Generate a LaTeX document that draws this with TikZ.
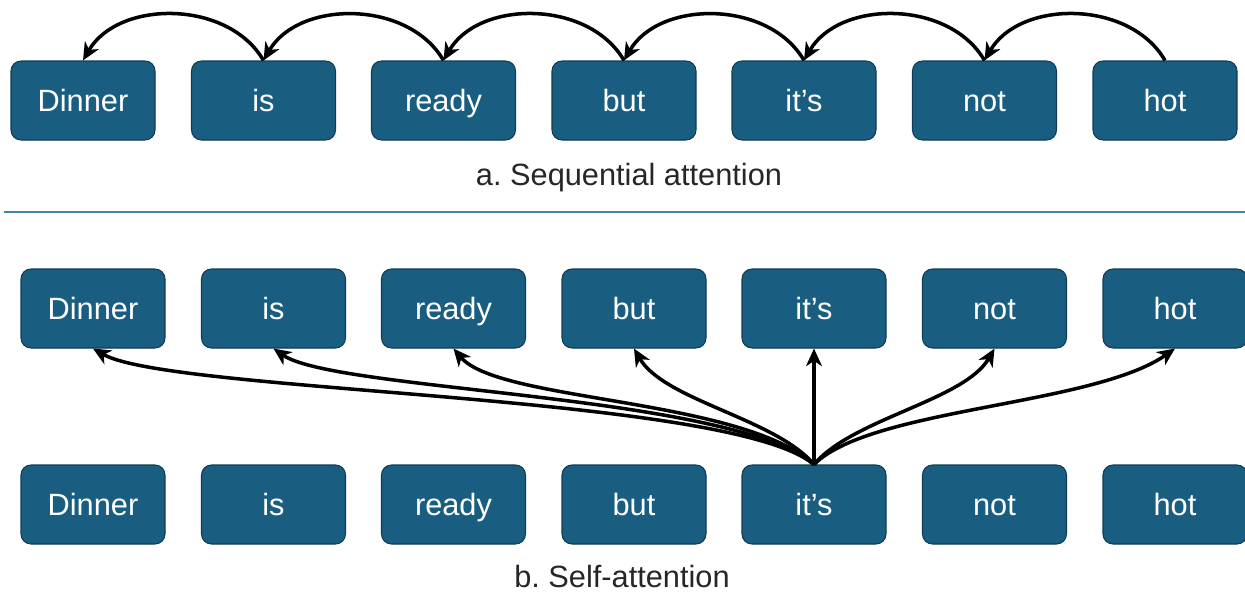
\documentclass[tikz,border=0pt]{standalone}
\usepackage{fontspec}
\setmainfont{Liberation Sans}
\usetikzlibrary{arrows.meta}
\frenchspacing

\definecolor{tokfill}{RGB}{25,94,128}
\definecolor{tokline}{RGB}{16,60,82}
\definecolor{rulecol}{RGB}{70,130,165}

\begin{document}
\begin{tikzpicture}[
    tok/.style={draw=tokline, line width=0.6pt, fill=tokfill, rounded corners=0.2cm,
                minimum width=2.88cm, minimum height=1.58cm, text=white,
                font=\fontsize{17.5}{20}\selectfont, text height=12.5pt, text depth=0pt},
    caption/.style={anchor=base, text=black!85, font=\fontsize{17.5}{20}\selectfont},
    att/.style={line width=2pt, -{Stealth[length=10pt, width=9pt, inset=3pt]}}
  ]

    \useasboundingbox (0,0) rectangle (24.9,-11.92);

    % a. one word at a time, right to left
    \node[tok] (a1) at (1.66,-2.01) {Dinner};
    \node[tok] (a2) at (5.27,-2.01) {is};
    \node[tok] (a3) at (8.87,-2.01) {ready};
    \node[tok] (a4) at (12.48,-2.01) {but};
    \node[tok] (a5) at (16.08,-2.01) {it’s};
    \node[tok] (a6) at (19.69,-2.01) {not};
    \node[tok] (a7) at (23.30,-2.01) {hot};

    \draw[att] (a2.north) to[out=120, in=60] (a1.north);
    \draw[att] (a3.north) to[out=120, in=60] (a2.north);
    \draw[att] (a4.north) to[out=120, in=60] (a3.north);
    \draw[att] (a5.north) to[out=120, in=60] (a4.north);
    \draw[att] (a6.north) to[out=120, in=60] (a5.north);
    \draw[att] (a7.north) to[out=120, in=60] (a6.north);

    \node[caption] (capa) at (12.58,-3.70) {a. Sequential attention};

    \draw[rulecol, line width=1pt] (0.08,-4.24) -- (24.9,-4.24);

    % b. every word looks at every other one
    \node[tok] (u1) at (1.86,-6.17) {Dinner};
    \node[tok] (u2) at (5.47,-6.17) {is};
    \node[tok] (u3) at (9.07,-6.17) {ready};
    \node[tok] (u4) at (12.68,-6.17) {but};
    \node[tok] (u5) at (16.28,-6.17) {it’s};
    \node[tok] (u6) at (19.89,-6.17) {not};
    \node[tok] (u7) at (23.50,-6.17) {hot};

    \node[tok] (l1) at (1.86,-10.09) {Dinner};
    \node[tok] (l2) at (5.47,-10.09) {is};
    \node[tok] (l3) at (9.07,-10.09) {ready};
    \node[tok] (l4) at (12.68,-10.09) {but};
    \node[tok] (l5) at (16.28,-10.09) {it’s};
    \node[tok] (l6) at (19.89,-10.09) {not};
    \node[tok] (l7) at (23.50,-10.09) {hot};

    \draw[att] (l5.north) to[out=140, in=-30, out distance=2.2cm, in distance=1.8cm] (u1.south);
    \draw[att] (l5.north) to[out=140, in=-35, out distance=2.2cm, in distance=1.5cm] (u2.south);
    \draw[att] (l5.north) to[out=138, in=-50, out distance=2cm, in distance=1.4cm] (u3.south);
    \draw[att] (l5.north) to[out=130, in=-60, out distance=1.2cm, in distance=1.2cm] (u4.south);
    \draw[att] (l5.north) -- (u5.south);
    \draw[att] (l5.north) to[out=50, in=-120, out distance=1.2cm, in distance=1.2cm] (u6.south);
    \draw[att] (l5.north) to[out=45, in=-145, out distance=1.6cm, in distance=2cm] (u7.south);

    \node[caption] (capb) at (12.44,-11.74) {b. Self-attention};

\end{tikzpicture}
\end{document}
